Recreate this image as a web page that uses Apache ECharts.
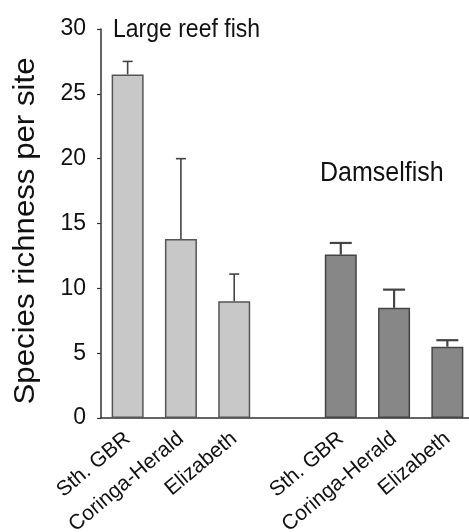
<!DOCTYPE html>
<html>
<head>
<meta charset="utf-8">
<script src="https://cdn.jsdelivr.net/npm/echarts@6/dist/echarts.min.js"></script>
<style>
  html, body { margin: 0; padding: 0; background: #fff; }
  #chart { width: 469px; height: 532px; }
</style>
</head>
<body>
<div id="chart"></div>
<script>
// categories along the x axis, the empty one is the gap between groups
const categories = ['Sth. GBR', 'Coringa-Herald', 'Elizabeth', '', 'Sth. GBR', 'Coringa-Herald', 'Elizabeth'];
// large reef fish (first group)
const reefMean = [26.5, 13.8, 9.0];
const reefErr = [1.0, 6.2, 2.1];
// damselfish (second group)
const damselMean = [12.6, 8.5, 5.5];
const damselErr = [0.9, 1.4, 0.5];
const yTicks = [0, 5, 10, 15, 20, 25, 30];

const FONT = 'Liberation Sans, Arial, sans-serif';
const chart = echarts.init(document.getElementById('chart'));

// put each group on its own slots of the category axis
const reefData = categories.map((c, i) => (i < 3 ? reefMean[i] : '-'));
const damselData = categories.map((c, i) => (i > 3 ? damselMean[i - 4] : '-'));
const errData = [];
reefMean.forEach((m, i) => errData.push([i, m, m + reefErr[i], 0]));
damselMean.forEach((m, i) => errData.push([i + 4, m, m + damselErr[i], 1]));

const renderErr = function (params, api) {
  const x = api.value(0);
  const lo = api.coord([x, api.value(1)]);
  const hi = api.coord([x, api.value(2)]);
  const dark = api.value(3) === 1;
  const half = dark ? 11 : 5;
  const w = dark ? 2.2 : 1.6;
  const style = { stroke: '#444', lineWidth: w };
  return {
    type: 'group',
    children: [
      { type: 'line', shape: { x1: lo[0], y1: lo[1], x2: hi[0], y2: hi[1] }, style: style },
      { type: 'line', shape: { x1: hi[0] - half, y1: hi[1], x2: hi[0] + half, y2: hi[1] }, style: style }
    ]
  };
};

const option = {
  animation: false,
  grid: { left: 101, top: 29, width: 373, height: 389, outerBoundsMode: 'none', containLabel: false },
  xAxis: {
    type: 'category',
    data: categories,
    axisLine: { lineStyle: { color: '#333', width: 1.5 } },
    axisTick: { alignWithLabel: true, length: 5, inside: false, lineStyle: { color: '#333', width: 1.2 } },
    axisLabel: {
      interval: 0,
      rotate: 40,
      margin: 18,
      fontSize: 21,
      fontFamily: FONT,
      color: '#111'
    }
  },
  yAxis: {
    type: 'value',
    min: yTicks[0],
    max: yTicks[yTicks.length - 1],
    interval: 5,
    splitLine: { show: false },
    axisLine: { show: true, lineStyle: { color: '#333', width: 1.5 } },
    axisTick: { show: true, length: 4, lineStyle: { color: '#333', width: 1.2 } },
    axisLabel: { fontSize: 23, fontFamily: FONT, color: '#111', margin: 15 }
  },
  graphic: [
    {
      type: 'text', x: 26, y: 231, rotation: Math.PI / 2, scaleX: 1.115, scaleY: 1.05,
      style: { text: 'Species richness per site', font: '28px ' + FONT, fill: '#111', align: 'center', verticalAlign: 'middle' }
    },
    {
      type: 'text', x: 113, y: 30, scaleY: 1.12,
      style: { text: 'Large reef fish', font: '23px ' + FONT, fill: '#111', align: 'left', verticalAlign: 'middle' }
    },
    {
      type: 'text', x: 320, y: 174, scaleY: 1.08,
      style: { text: 'Damselfish', font: '25px ' + FONT, fill: '#111', align: 'left', verticalAlign: 'middle' }
    }
  ],
  series: [
    {
      type: 'bar', data: reefData, barWidth: 32, barGap: '-100%',
      itemStyle: { color: '#c8c8c8', borderColor: '#555', borderWidth: 1.5 }
    },
    {
      type: 'bar', data: damselData, barWidth: 32, barGap: '-100%',
      itemStyle: { color: '#878787', borderColor: '#444', borderWidth: 1.5 }
    },
    {
      type: 'custom', renderItem: renderErr, data: errData, z: 10,
      encode: { x: 0, y: [1, 2] }
    }
  ]
};
chart.setOption(option);
</script>
</body>
</html>
